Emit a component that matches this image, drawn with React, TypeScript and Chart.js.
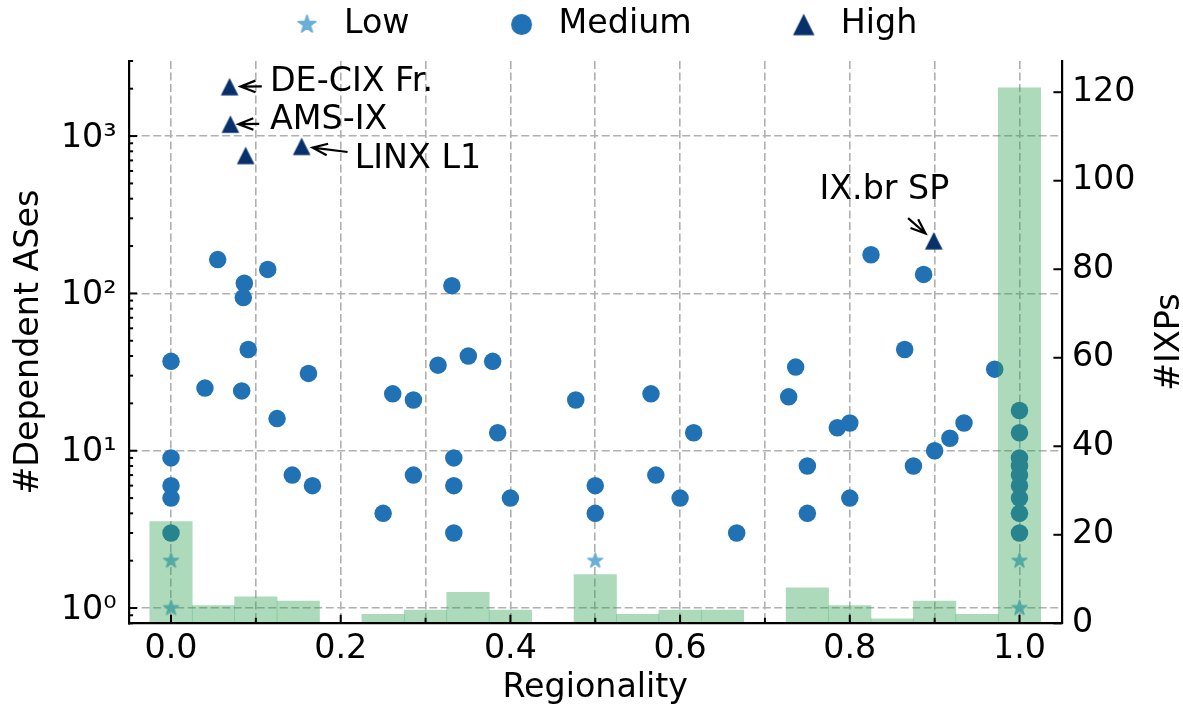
import { useEffect, useRef } from 'react';
import { Chart, registerables } from 'chart.js';

Chart.register(...registerables);

const W = 1183;
const H = 712;
const FONT_FAMILY = '"DejaVu Sans", sans-serif';
const FONT_SIZE = 33.3;
const FONT = `${FONT_SIZE}px ${FONT_FAMILY}`;

// IXPs by regionality (x) and number of dependent ASes (y), split by dependence level
const lowX = [0, 0, 0.5, 1, 1];
const lowY = [1, 2, 2, 1, 2];

const mediumX = [
  0, 0, 0, 0, 0,
  0.04, 0.055, 0.0833, 0.0852, 0.0864, 0.091, 0.114, 0.125, 0.1429, 0.162, 0.1667,
  0.25, 0.2613, 0.2857, 0.2857, 0.3147, 0.331, 0.3333, 0.3333, 0.3333, 0.3504, 0.3791, 0.385, 0.4, 0.477,
  0.5, 0.5, 0.5657, 0.5714, 0.6, 0.616, 0.6667,
  0.728, 0.7362, 0.75, 0.75, 0.7853, 0.8, 0.8, 0.825, 0.8647, 0.875, 0.887, 0.9, 0.918, 0.9346, 0.9708,
  1, 1, 1, 1, 1, 1, 1, 1, 1,
];
const mediumY = [
  37, 9, 6, 5, 3,
  25, 164, 24, 94, 116, 44, 142, 16, 7, 31, 6,
  4, 23, 21, 7, 35, 112, 9, 6, 3, 40, 37, 13, 5, 21,
  6, 4, 23, 7, 5, 13, 3,
  22, 34, 8, 4, 14, 15, 5, 176, 44, 8, 132, 10, 12, 15, 33,
  18, 13, 9, 8, 7, 6, 5, 4, 3,
];

const highX = [0.069, 0.07, 0.088, 0.154, 0.899];
const highY = [2060, 1190, 753, 860, 216];

// Histogram of IXPs per regionality bin (bins 0.05 wide, centred on multiples of 0.05)
const binCenters = [
  0, 0.05, 0.1, 0.15, 0.2, 0.25, 0.3, 0.35, 0.4, 0.45, 0.5,
  0.55, 0.6, 0.65, 0.7, 0.75, 0.8, 0.85, 0.9, 0.95, 1.0,
];
const binCounts = [23, 4, 6, 5, 0, 2, 3, 7, 3, 0, 11, 2, 3, 3, 0, 8, 4, 1, 5, 2, 121];

// Axis ticks
const xGridValues = [0, 0.1, 0.2, 0.3, 0.4, 0.5, 0.6, 0.7, 0.8, 0.9, 1.0];
const xTickLabels = ['0.0', '', '0.2', '', '0.4', '', '0.6', '', '0.8', '', '1.0'];
const yMajorValues = [1, 10, 100, 1000];
const yTickLabels = ['10⁰', '10¹', '10²', '10³'];
const y2TickValues = [0, 20, 40, 60, 80, 100, 120];
const y2TickLabels = ['0', '20', '40', '60', '80', '100', '120'];

const seriesNames = ['Low', 'Medium', 'High'];
const seriesColors = ['#6baed6', '#2171b5', '#08306b'];
const barColor = 'rgba(49, 163, 84, 0.4)';
const gridColor = '#b0b0b0';

// Labelled IXPs: index into the High series, text anchor and arrow tail in data units
const annotations = [
  { text: 'DE-CIX Fr.', point: 0, textX: 0.1166, textY: 2200, tailX: 0.107, tailY: 2070, gap: 11, align: 'left' },
  { text: 'AMS-IX', point: 1, textX: 0.1167, textY: 1265, tailX: 0.104, tailY: 1194, gap: 8, align: 'left' },
  { text: 'LINX L1', point: 3, textX: 0.2165, textY: 713, tailX: 0.2081, tailY: 792, gap: 11, align: 'left' },
  { text: 'IX.br SP', point: 4, textX: 0.8408, textY: 451, tailX: 0.8687, tailY: 301, gap: 11, align: 'center' },
];

function makeMarker(shape: string, size: number, color: string, edge = 0): HTMLCanvasElement {
  const side = Math.ceil(size + edge) + 4;
  const c = document.createElement('canvas');
  c.width = side;
  c.height = side;
  const g = c.getContext('2d') as CanvasRenderingContext2D;
  const cx = side / 2;
  const cy = side / 2;
  const r = size / 2;
  g.fillStyle = color;
  g.strokeStyle = color;
  g.lineWidth = edge;
  g.lineJoin = 'round';
  g.beginPath();
  if (shape === 'star') {
    for (let i = 0; i < 10; i++) {
      const rad = i % 2 === 0 ? r : r * 0.381966;
      const ang = -Math.PI / 2 + (i * Math.PI) / 5;
      const px = cx + rad * Math.cos(ang);
      const py = cy + rad * Math.sin(ang);
      if (i === 0) g.moveTo(px, py);
      else g.lineTo(px, py);
    }
  } else if (shape === 'triangle') {
    g.moveTo(cx, cy - r);
    g.lineTo(cx + r, cy + r);
    g.lineTo(cx - r, cy + r);
  } else {
    g.arc(cx, cy, r, 0, Math.PI * 2);
  }
  g.closePath();
  g.fill();
  if (edge > 0) g.stroke();
  return c;
}

function drawArrow(ctx: CanvasRenderingContext2D, x0: number, y0: number, x1: number, y1: number) {
  const ang = Math.atan2(y1 - y0, x1 - x0);
  const len = 16;
  const spread = 0.37;
  ctx.beginPath();
  ctx.moveTo(x0, y0);
  ctx.lineTo(x1, y1);
  ctx.moveTo(x1 - len * Math.cos(ang - spread), y1 - len * Math.sin(ang - spread));
  ctx.lineTo(x1, y1);
  ctx.lineTo(x1 - len * Math.cos(ang + spread), y1 - len * Math.sin(ang + spread));
  ctx.stroke();
}

function makeDecorPlugin(legendMarkers: HTMLCanvasElement[]) {
  return {
    id: 'decor',
    afterDraw(chart: any) {
      const { ctx, chartArea: area, scales } = chart;
      const xs = scales.x;
      const ys = scales.y;
      const y2s = scales.y2;
      ctx.save();

      // inward tick marks
      ctx.strokeStyle = '#000';
      ctx.lineWidth = 2;
      ctx.lineCap = 'butt';
      const seg = (ax: number, ay: number, bx: number, by: number) => {
        ctx.beginPath();
        ctx.moveTo(ax, ay);
        ctx.lineTo(bx, by);
        ctx.stroke();
      };
      xGridValues.forEach((v, i) => {
        const px = xs.getPixelForValue(v);
        seg(px, area.bottom, px, area.bottom - (xTickLabels[i] ? 8.5 : 5.5));
      });
      yMajorValues.forEach((v) => {
        const py = ys.getPixelForValue(v);
        seg(area.left, py, area.left + 8.5, py);
      });
      for (let e = -1; e <= 3; e++) {
        for (let m = 2; m <= 9; m++) {
          const v = m * Math.pow(10, e);
          if (v < ys.min - 1e-9 || v > ys.max + 1e-9) continue;
          const py = ys.getPixelForValue(v);
          seg(area.left, py, area.left + 4.5, py);
        }
      }
      y2TickValues.forEach((v) => {
        const py = y2s.getPixelForValue(v);
        seg(area.right, py, area.right - 8.5, py);
      });

      // annotations with arrows
      ctx.fillStyle = '#000';
      ctx.font = FONT;
      ctx.textBaseline = 'middle';
      ctx.lineWidth = 2.2;
      annotations.forEach((a) => {
        const px = xs.getPixelForValue(highX[a.point]);
        const py = ys.getPixelForValue(highY[a.point]);
        const tx = xs.getPixelForValue(a.tailX);
        const ty = ys.getPixelForValue(a.tailY);
        const d = Math.hypot(tx - px, ty - py);
        const hx = px + ((tx - px) / d) * a.gap;
        const hy = py + ((ty - py) / d) * a.gap;
        drawArrow(ctx, tx, ty, hx, hy);
        ctx.textAlign = a.align;
        ctx.fillText(a.text, xs.getPixelForValue(a.textX), ys.getPixelForValue(a.textY));
      });

      // legend
      let lx = area.left + 178.4;
      const ly = 24.5;
      ctx.textAlign = 'left';
      seriesNames.forEach((name, i) => {
        const mk = legendMarkers[i];
        ctx.drawImage(mk, lx - mk.width / 2, ly - mk.height / 2);
        const tx = lx + 37;
        ctx.fillText(name, tx, ly);
        lx = tx + ctx.measureText(name).width + 112;
      });

      // axis titles
      const midY = (area.top + area.bottom) / 2;
      ctx.textAlign = 'center';
      ctx.fillText('Regionality', (area.left + area.right) / 2, area.bottom + 64.7);
      ctx.save();
      ctx.translate(area.left - 99.4, midY);
      ctx.rotate(-Math.PI / 2);
      ctx.fillText('#Dependent ASes', 0, 0);
      ctx.restore();
      ctx.save();
      ctx.translate(area.right + 108, midY);
      ctx.rotate(-Math.PI / 2);
      ctx.fillText('#IXPs', 0, 0);
      ctx.restore();

      ctx.restore();
    },
  };
}

export default function App() {
  const canvasRef = useRef<HTMLCanvasElement>(null);

  useEffect(() => {
    const canvas = canvasRef.current;
    if (!canvas) return;

    const lowMarker = makeMarker('star', 15.6, seriesColors[0], 1.4);
    const highMarker = makeMarker('triangle', 17.6, seriesColors[2]);
    const legendMarkers = [
      makeMarker('star', 18.5, seriesColors[0], 1.6),
      makeMarker('circle', 21, seriesColors[1]),
      makeMarker('triangle', 21.5, seriesColors[2]),
    ];

    const tickFont = { family: FONT_FAMILY, size: FONT_SIZE };

    const chart = new Chart(canvas, {
      type: 'scatter',
      data: {
        datasets: [
          {
            type: 'bar',
            label: '#IXPs',
            data: binCenters.map((x, i) => ({ x, y: binCounts[i] })),
            yAxisID: 'y2',
            backgroundColor: barColor,
            borderWidth: 0,
            barPercentage: 1,
            categoryPercentage: 1,
            order: 0,
          } as any,
          {
            type: 'scatter',
            label: seriesNames[2],
            data: highX.map((x, i) => ({ x, y: highY[i] })),
            yAxisID: 'y',
            pointStyle: highMarker,
            pointRadius: 9,
            order: 1,
          },
          {
            type: 'scatter',
            label: seriesNames[1],
            data: mediumX.map((x, i) => ({ x, y: mediumY[i] })),
            yAxisID: 'y',
            pointStyle: 'circle',
            pointRadius: 8.75,
            pointHoverRadius: 8.75,
            backgroundColor: seriesColors[1],
            borderWidth: 0,
            order: 2,
          },
          {
            type: 'scatter',
            label: seriesNames[0],
            data: lowX.map((x, i) => ({ x, y: lowY[i] })),
            yAxisID: 'y',
            pointStyle: lowMarker,
            pointRadius: 8.4,
            order: 3,
          },
        ],
      },
      options: {
        responsive: true,
        maintainAspectRatio: false,
        animation: false,
        events: [],
        layout: { padding: { top: 61, left: 0, right: 0, bottom: 0 } },
        plugins: {
          legend: { display: false },
          tooltip: { enabled: false },
          title: { display: false },
        },
        scales: {
          x: {
            type: 'linear',
            min: -0.05,
            max: 1.05,
            bounds: 'data',
            offset: false,
            afterBuildTicks: (s: any) => {
              s.ticks = xGridValues.map((v) => ({ value: v }));
            },
            afterFit: (s: any) => {
              s.height = H - 623.3;
            },
            ticks: {
              font: tickFont,
              color: '#000',
              padding: 6,
              maxRotation: 0,
              autoSkip: false,
              callback: (_v: any, i: number) => xTickLabels[i],
            },
            grid: { color: gridColor, lineWidth: 1.6, drawTicks: false, offset: false },
            border: { display: true, color: '#000', width: 2.2, dash: [8, 3.5], z: 1 },
          },
          y: {
            type: 'logarithmic',
            position: 'left',
            min: 0.8,
            max: 3000,
            bounds: 'data',
            afterBuildTicks: (s: any) => {
              s.ticks = yMajorValues.map((v) => ({ value: v }));
            },
            afterFit: (s: any) => {
              s.width = 128.6;
            },
            ticks: {
              font: tickFont,
              color: '#000',
              padding: 12,
              labelOffset: 2,
              autoSkip: false,
              callback: (_v: any, i: number) => yTickLabels[i],
            },
            grid: { color: gridColor, lineWidth: 1.6, drawTicks: false },
            border: { display: true, color: '#000', width: 2.2, dash: [8, 3.5], z: 1 },
          },
          y2: {
            type: 'linear',
            position: 'right',
            min: 0,
            max: 127.05,
            bounds: 'data',
            afterBuildTicks: (s: any) => {
              s.ticks = y2TickValues.map((v) => ({ value: v }));
            },
            afterFit: (s: any) => {
              s.width = W - 1061.9;
            },
            ticks: {
              font: tickFont,
              color: '#000',
              padding: 10,
              autoSkip: false,
              callback: (_v: any, i: number) => y2TickLabels[i],
            },
            grid: { drawOnChartArea: false, drawTicks: false },
            border: { display: true, color: '#000', width: 2.2, z: 1 },
          },
        },
      } as any,
      plugins: [makeDecorPlugin(legendMarkers)],
    });

    return () => chart.destroy();
  }, []);

  return (
    <div style={{ position: 'absolute', left: 0, top: 0, width: W, height: H, background: '#fff' }}>
      <canvas ref={canvasRef} />
    </div>
  );
}
